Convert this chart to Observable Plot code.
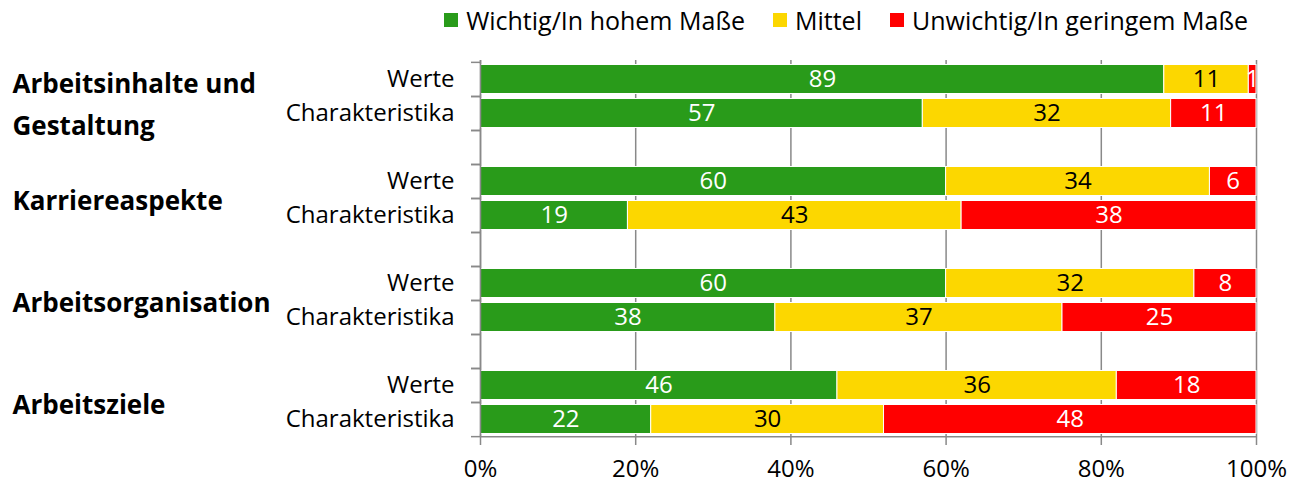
<!DOCTYPE html>
<html>
<head>
<meta charset="utf-8">
<script src="https://cdn.jsdelivr.net/npm/d3@7"></script>
<script src="https://cdn.jsdelivr.net/npm/@observablehq/plot@0.6"></script>
<style>
  html, body { margin: 0; padding: 0; background: #fff; }
  body { width: 1304px; height: 487px; overflow: hidden; font-family: "Open Sans", sans-serif; }
  #legend { height: 40px; display: flex; justify-content: flex-end; align-items: center; padding-right: 56px; font-size: 25px; color: #000; }
  .item { display: flex; align-items: center; margin-left: 28px; }
  .sw { width: 14px; height: 14px; margin-right: 8px; }
  svg { display: block; }
</style>
</head>
<body>
<div id="legend"></div>
<div id="chart"></div>
<script>
const groups = ["Arbeitsinhalte und\nGestaltung", "Karriereaspekte", "Arbeitsorganisation", "Arbeitsziele"];
const rowTypes = ["Werte", "Charakteristika"];
const categories = ["Wichtig/In hohem Maße", "Mittel", "Unwichtig/In geringem Maße"];
const colors = ["#299b1a", "#fcd700", "#ff0000"];
const textColors = ["white", "black", "white"];
// order: for each group, Werte then Charakteristika
const wichtig   = [89, 57, 60, 19, 60, 38, 46, 22];
const mittel    = [11, 32, 34, 43, 32, 37, 36, 30];
const unwichtig = [ 1, 11,  6, 38,  8, 25, 18, 48];
const xTicks = [0, 0.2, 0.4, 0.6, 0.8, 1];

// legend
const legend = document.getElementById("legend");
categories.forEach((c, i) => {
  const it = document.createElement("div");
  it.className = "item";
  const sw = document.createElement("div");
  sw.className = "sw";
  sw.style.background = colors[i];
  const t = document.createElement("span");
  t.textContent = c;
  it.appendChild(sw); it.appendChild(t);
  legend.appendChild(it);
});

// slots
const slots = [];
groups.forEach((g, gi) => {
  rowTypes.forEach(r => slots.push(gi + "|" + r));
  if (gi < groups.length - 1) slots.push(gi + "|gap");
});
const series = [wichtig, mittel, unwichtig];
const rows = [];
groups.forEach((g, gi) => {
  rowTypes.forEach((r, ri) => {
    const k = gi * 2 + ri;
    categories.forEach((c, ci) => {
      rows.push({slot: gi + "|" + r, cat: c, value: series[ci][k], color: colors[ci], tcolor: textColors[ci]});
    });
  });
});
const groupRows = groups.map((g, gi) => ({slot: gi + "|Werte", label: g}));

const W = 1304, H = 447, mt = 20, mb = 50, ml = 480, mr = 48;
const bw = (H - mt - mb) / slots.length;
const font = "'Open Sans', sans-serif";

const chart = Plot.plot({
  width: W, height: H,
  marginTop: mt, marginBottom: mb, marginLeft: ml, marginRight: mr,
  style: {fontFamily: font, fontSize: "24px", color: "#000", background: "#fff", overflow: "visible"},
  x: {domain: [0, 1], axis: null, label: null},
  y: {domain: slots, padding: 0, axis: null, label: null},
  color: {type: "identity"},
  marks: [
    Plot.ruleX(xTicks, {stroke: "#898989", strokeWidth: 1.5}),
    Plot.barX(rows, Plot.stackX({x: "value", y: "slot", z: "cat", offset: "normalize", fill: "color", stroke: "white", strokeWidth: 1, insetTop: 2.5, insetBottom: 2.5})),
    Plot.text(rows, Plot.stackX({x: "value", y: "slot", z: "cat", offset: "normalize", text: d => String(d.value), fill: "tcolor", fontSize: 24})),
    // y axis line and boundary ticks
    Plot.axisY({tickSize: 9, tickFormat: () => "", label: null, stroke: "#898989", strokeWidth: 1.5, dy: -bw / 2}),
    Plot.axisY({tickSize: 9, tickFormat: () => "", label: null, stroke: "#898989", strokeWidth: 1.5, dy: bw / 2}),
    Plot.ruleX([0], {stroke: "#898989", strokeWidth: 1.5}),
    Plot.axisY({tickSize: 0, tickPadding: 26, fontSize: 24, label: null, tickFormat: s => s.endsWith("gap") ? "" : s.split("|")[1]}),
    // x axis
    Plot.axisX({ticks: xTicks, tickSize: 8, tickFormat: () => "", label: null, stroke: "#898989", strokeWidth: 1.5}),
    Plot.ruleY([slots[slots.length - 1]], {stroke: "#898989", strokeWidth: 1.5, dy: bw / 2}),
    Plot.axisX({ticks: xTicks, tickSize: 0, tickPadding: 22, fontSize: 24, label: null, tickFormat: d3.format(".0%")}),
    // group labels (two-line and one-line)
    Plot.text(groupRows, {filter: d => d.label.includes("\n"), y: "slot", text: "label", frameAnchor: "left", dx: -468, dy: 21, textAnchor: "start", lineAnchor: "middle", lineHeight: 1.6, fontSize: 26, fontWeight: "bold", fill: "black"}),
    Plot.text(groupRows, {filter: d => !d.label.includes("\n"), y: "slot", text: "label", frameAnchor: "left", dx: -468, dy: 20, textAnchor: "start", lineAnchor: "middle", fontSize: 26, fontWeight: "bold", fill: "black"})
  ]
});
document.getElementById("chart").appendChild(chart);
</script>
</body>
</html>
